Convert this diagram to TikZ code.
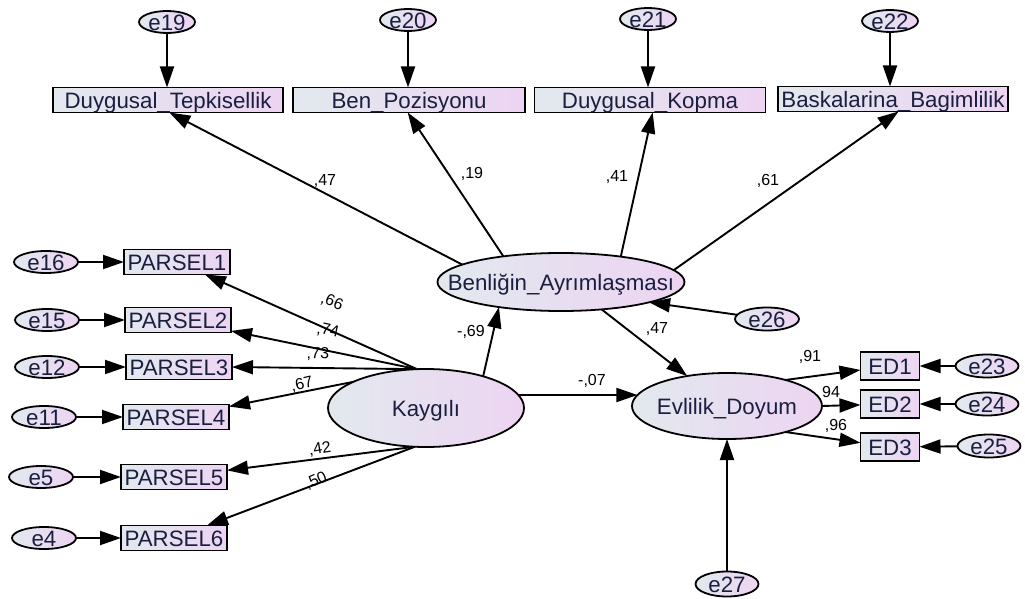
\documentclass[tikz,border=0pt]{standalone}
\usepackage{fontspec}
\setmainfont{Liberation Sans}
\usetikzlibrary{arrows.meta,shapes.geometric}
\pgfdeclarelayer{bg}
\pgfsetlayers{bg,main}
\definecolor{gA}{HTML}{E2E9EE}
\definecolor{gB}{HTML}{EDD4F2}
\definecolor{txt}{HTML}{1A1F40}
\newcommand{\ct}[1]{\makebox[0pt][c]{\raisebox{-0.36em}[0pt][0pt]{#1}}}
\tikzset{
  base/.style={left color=gA,right color=gB,draw=black,line width=1.8pt,inner sep=0pt,outer sep=0pt,text=txt,font=\fontsize{22.3}{25}\selectfont},
  obs/.style={base,rectangle,minimum width=#1,minimum height=25pt},
  obs/.default=106pt,
  lat/.style={base,ellipse},
  err/.style={base,ellipse,minimum width=63pt,minimum height=23pt},
  coef/.style={font=\fontsize{16}{18}\selectfont,text=black,inner sep=0pt},
  arr/.style={draw=black,line width=1.9pt,-{Triangle[length=21pt,width=14pt]}},
}
\begin{document}
\begin{tikzpicture}[x=1pt,y=-1pt]
\useasboundingbox (0,0) rectangle (1025,599);
% top error terms
\node[err,minimum width=56pt,minimum height=22pt] (e19) at (167,22) {\ct{e19}};
\node[err,minimum width=56pt,minimum height=22pt] (e20) at (408,20) {\ct{e20}};
\node[err,minimum width=56pt,minimum height=22pt] (e21) at (648,19) {\ct{e21}};
\node[err,minimum width=56pt,minimum height=22pt] (e22) at (890,21) {\ct{e22}};
% top observed
\node[obs=230pt] (dt) at (168,100) {\ct{Duygusal\_Tepkisellik}};
\node[obs=232pt] (bp) at (409,100) {\ct{Ben\_Pozisyonu}};
\node[obs=231pt] (dk) at (650,100) {\ct{Duygusal\_Kopma}};
\node[obs=230pt] (bb) at (893,99) {\ct{Baskalarina\_Bagimlilik}};
% latent
\node[lat,minimum width=247pt,minimum height=58pt] (ben) at (561,282) {\ct{Benliğin\_Ayrımlaşması}};
\node[lat,minimum width=196pt,minimum height=78pt] (kay) at (426,408) {\ct{Kaygılı}};
\node[lat,minimum width=190pt,minimum height=66pt] (evl) at (727,406) {\ct{Evlilik\_Doyum}};
% parcels
\node[obs] (p1) at (177,262) {\ct{PARSEL1}};
\node[obs] (p2) at (178,320) {\ct{PARSEL2}};
\node[obs] (p3) at (179,367) {\ct{PARSEL3}};
\node[obs] (p4) at (176,417) {\ct{PARSEL4}};
\node[obs] (p5) at (174,477) {\ct{PARSEL5}};
\node[obs] (p6) at (174,538) {\ct{PARSEL6}};
\node[err,minimum width=64pt,minimum height=22pt] (e16) at (46,262) {\ct{e16}};
\node[err,minimum width=64pt,minimum height=22pt] (e15) at (47,320) {\ct{e15}};
\node[err,minimum width=64pt,minimum height=22pt] (e12) at (47,367) {\ct{e12}};
\node[err,minimum width=64pt,minimum height=22pt] (e11) at (44,417) {\ct{e11}};
\node[err,minimum width=64pt,minimum height=22pt] (e5) at (41,477) {\ct{e5}};
\node[err,minimum width=64pt,minimum height=22pt] (e4) at (44,538) {\ct{e4}};
% ED
\node[obs=59pt,minimum height=28pt] (ed1) at (890,366) {\ct{ED1}};
\node[obs=59pt,minimum height=28pt] (ed2) at (890,404) {\ct{ED2}};
\node[obs=59pt,minimum height=28pt] (ed3) at (890,447) {\ct{ED3}};
\node[err] (e23) at (987,366) {\ct{e23}};
\node[err] (e24) at (987,404) {\ct{e24}};
\node[err] (e25) at (989,446) {\ct{e25}};
\node[err,minimum width=64pt,minimum height=23pt] (e26) at (767,319) {\ct{e26}};
\node[err,minimum height=25pt] (e27) at (727,584) {\ct{e27}};
% coefficients
\node[coef] (c1) at (325,181) {,47};
\node[coef] (c2) at (472,174) {,19};
\node[coef] (c3) at (617,177) {,41};
\node[coef] (c4) at (768,181) {,61};
\node[coef,rotate=-22] (c5) at (332,302) {,66};
\node[coef,rotate=-12] (c6) at (328,331) {,74};
\node[coef,rotate=-2] (c7) at (318,354) {,73};
\node[coef,rotate=13] (c8) at (302,385) {,67};
\node[coef,rotate=9] (c9) at (320,449) {,42};
\node[coef,rotate=24] (c10) at (316,481) {,50};
\node[coef] (c11) at (471,332) {-,69};
\node[coef] (c12) at (657,329) {,47};
\node[coef] (c13) at (592,381) {-,07};
\node[coef] (c14) at (810,357) {,91};
\node[coef] (c15) at (831,392) {94};
\node[coef] (c16) at (836,426) {,96};
\begin{pgfonlayer}{bg}
\draw[arr] (e19.south) -- (e19.south |- dt.north);
\draw[arr] (e20.south) -- (e20.south |- bp.north);
\draw[arr] (e21.south) -- (e21.south |- dk.north);
\draw[arr] (e22.south) -- (e22.south |- bb.north);
\draw[arr] (ben.170) -- (dt.-84);
\draw[arr] (ben.156) -- (bp.-96);
\draw[arr] (ben.23) -- (dk.-78);
\draw[arr] (ben.6) -- (bb.-66);
\draw[arr] (kay.103) -- (p1);
\draw[arr] (kay.103) -- (p2);
\draw[arr] (kay.103) -- (p3.east);
\draw[arr] (kay.103) -- (p4);
\draw[arr] (kay.-106) -- (p5);
\draw[arr] (kay.-106) -- (p6);
\draw[arr] (e16) -- (p1);
\draw[arr] (e15) -- (p2);
\draw[arr] (e12) -- (p3);
\draw[arr] (e11) -- (p4);
\draw[arr] (e5) -- (p5);
\draw[arr] (e4) -- (p6);
\draw[arr] (kay.29) -- (ben.-158);
\draw[arr] (kay.8) -- (evl.173);
\draw[arr] (ben.-34) -- (evl.143);
\draw[arr] (e26) -- (ben.-13);
\draw[arr] (e27.north) -- (evl.south);
\draw[arr] (evl.24) -- (ed1);
\draw[arr] (evl.east) -- (ed2);
\draw[arr] (evl.-24) -- (ed3);
\draw[arr] (e23) -- (ed1);
\draw[arr] (e24) -- (ed2);
\draw[arr] (e25) -- (ed3);
\end{pgfonlayer}
\end{tikzpicture}
\end{document}
